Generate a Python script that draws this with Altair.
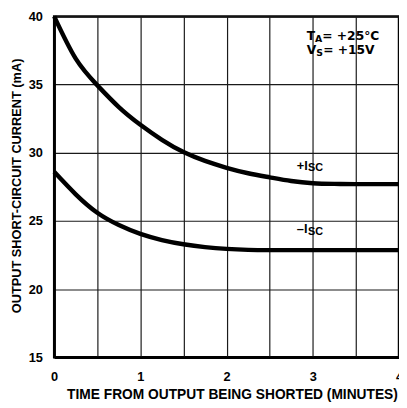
import altair as alt
import pandas as pd

# +Isc curve (mA) vs time (minutes)
t_pos = [0.0, 0.25, 0.5, 0.75, 1.0, 1.25, 1.5, 1.75, 2.0, 2.25, 2.5, 2.75, 3.0, 3.25, 3.5, 3.75, 4.0]
i_pos = [40.0, 36.9, 34.95, 33.35, 32.05, 30.95, 30.05, 29.4, 28.9, 28.5, 28.2, 27.93, 27.77, 27.72, 27.7, 27.7, 27.7]

# -Isc curve
t_neg = [0.0, 0.25, 0.5, 0.75, 1.0, 1.25, 1.5, 1.75, 2.0, 2.25, 2.5, 3.0, 3.5, 4.0]
i_neg = [28.6, 26.95, 25.6, 24.7, 24.05, 23.6, 23.29, 23.08, 22.95, 22.88, 22.86, 22.86, 22.86, 22.86]

# conditions note (top right): text pieces, data position (left/middle), font size
note_text = ["T", "A", "= +25°C", "V", "S", "= +15V"]
note_x = [2.93, 3.025, 3.11, 2.93, 3.04, 3.12]
note_y = [38.56, 38.31, 38.56, 37.55, 37.3, 37.55]
note_size = [12.5, 9.5, 12.5, 12.5, 9.5, 12.5]

# curve labels
lab_text = ["+I", "SC", "–I", "SC"]
lab_x = [2.815, 2.945, 2.815, 2.945]
lab_y = [29.05, 28.9, 24.37, 24.22]
lab_size = [13, 11, 13, 11]

x_ticks = [0, 0.5, 1, 1.5, 2, 2.5, 3, 3.5, 4]
y_ticks = [15, 17.5, 20, 22.5, 25, 27.5, 30, 32.5, 35, 37.5, 40]

curves = pd.concat([
    pd.DataFrame({"t": t_pos, "i": i_pos, "s": "+Isc"}),
    pd.DataFrame({"t": t_neg, "i": i_neg, "s": "-Isc"}),
])
note = pd.DataFrame({"x": note_x, "y": note_y, "txt": note_text, "fs": note_size})
labs = pd.DataFrame({"x": lab_x, "y": lab_y, "txt": lab_text, "fs": lab_size})

FONT = "Liberation Sans"

xscale = alt.Scale(domain=[0, 4], nice=False, zero=False)
yscale = alt.Scale(domain=[15, 40], nice=False, zero=False)

lines = alt.Chart(curves).mark_line(color="black", strokeWidth=4.5, interpolate="natural").encode(
    x=alt.X("t:Q", scale=xscale, axis=alt.Axis(
        values=x_ticks, labelExpr="datum.value % 1 == 0 ? toString(datum.value) : ''",
        title="TIME FROM OUTPUT BEING SHORTED (MINUTES)", titleX=181, titleY=38,
        titleBaseline="middle", titleFontSize=14,
        labelFlush=False, labelOverlap=False, labelPadding=14)),
    y=alt.Y("i:Q", scale=yscale, axis=alt.Axis(
        values=y_ticks, labelExpr="datum.value % 5 == 0 ? toString(datum.value) : ''",
        title="OUTPUT SHORT-CIRCUIT CURRENT (mA)", titleX=-38, titleY=172,
        titleBaseline="middle", titleAlign="center", titleAngle=-90,
        titleFontSize=13,
        labelOverlap=False, labelPadding=12)),
    detail="s:N",
)

def text_layer(df, font):
    return alt.Chart(df).mark_text(align="left", baseline="middle", font=font,
                                   fontWeight="bold", color="black").encode(
        x=alt.X("x:Q", scale=xscale),
        y=alt.Y("y:Q", scale=yscale),
        text="txt:N",
        size=alt.Size("fs:Q", scale=None),
    )

chart = (lines + text_layer(note, "DejaVu Sans") + text_layer(labs, FONT)).properties(
    width=351, height=347,
    autosize=alt.AutoSizeParams(type="none"),
    padding={"left": 47, "top": 5, "right": 0, "bottom": 45},
    background="white",
).configure_view(stroke="black", strokeWidth=2.5).configure_axis(
    grid=True, gridColor="#1a1a1a", gridWidth=1.2, gridOpacity=1,
    ticks=False, domain=True, domainColor="black", domainWidth=2.5,
    labelFont=FONT, labelFontWeight="bold", labelFontSize=13, labelColor="black",
    titleFont=FONT, titleFontWeight="bold", titleFontSize=12, titleColor="black",
)

chart.save("out.html", embed_options={"renderer": "svg", "actions": False})
